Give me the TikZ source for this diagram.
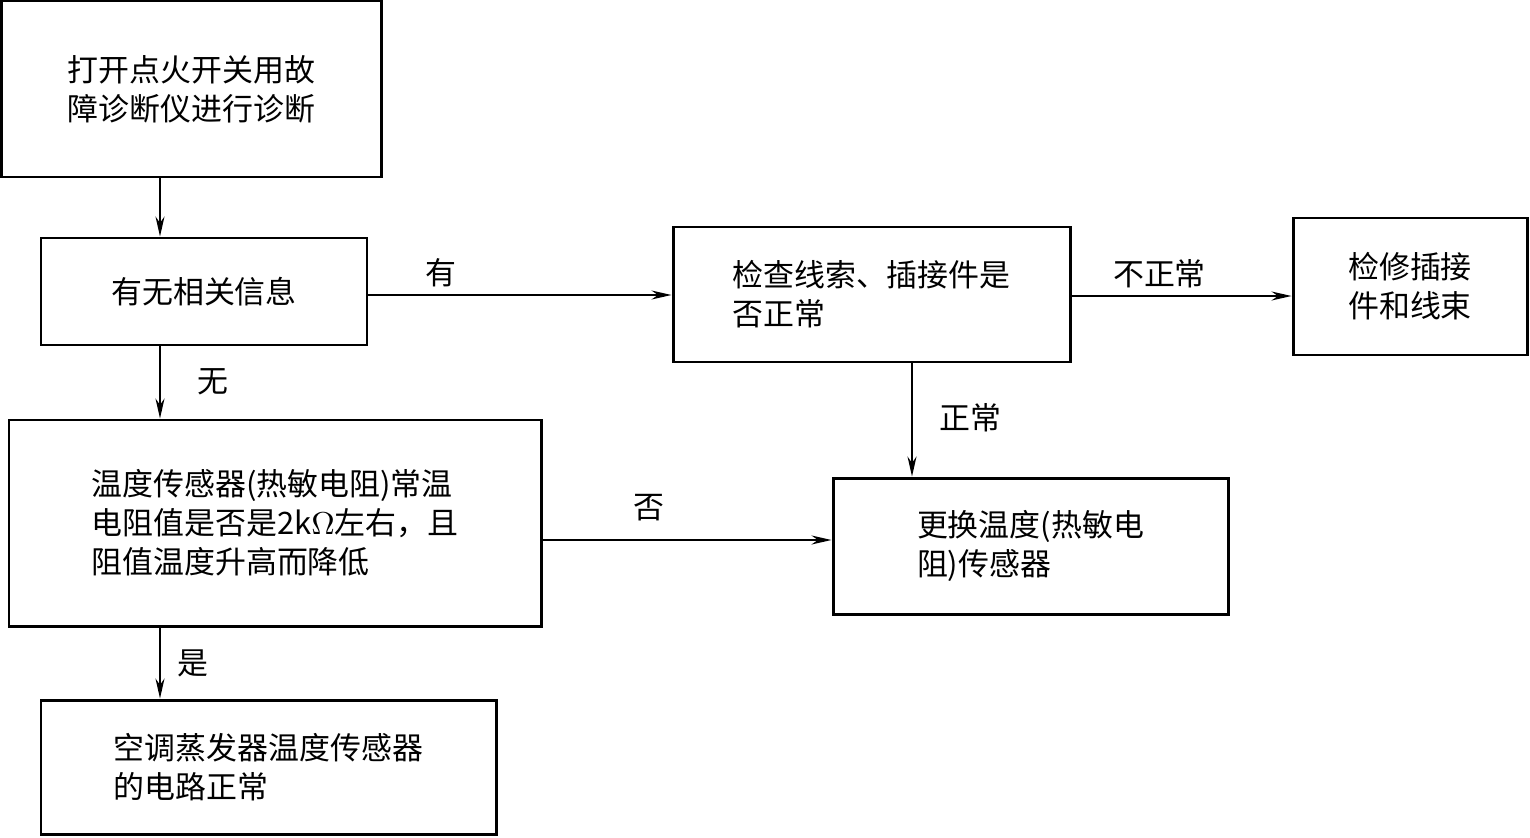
\documentclass[tikz,border=0pt]{standalone}
\usepackage{fontspec}
\newfontfamily\cjk{Noto Sans CJK SC}
\usetikzlibrary{arrows.meta}
\tikzset{
  box/.style={draw=black, line width=0.85pt, align=left, inner sep=2pt,
    font=\cjk\fontsize{8.8pt}{11.1pt}\selectfont},
  arr/.style={-{Stealth[length=2mm, width=0.9mm]}, line width=0.5pt},
  lbl/.style={font=\cjk\fontsize{8.8pt}{11pt}\selectfont, inner sep=1pt},
}
\begin{document}
\begin{tikzpicture}
  \useasboundingbox (0,0) rectangle (15.3,-8.37);
  % boxes
  \node[box, minimum width=3.8cm, minimum height=1.76cm] (start) at (1.915,-0.89) {打开点火开关用故\\障诊断仪进行诊断};
  \node[box, minimum width=3.26cm, minimum height=1.07cm] (info) at (2.04,-2.915) {有无相关信息};
  \node[box, minimum width=5.32cm, minimum height=2.06cm] (res) at (2.75,-5.23) {温度传感器(热敏电阻)常温\\电阻值是否是2k$\Omega$左右，且\\阻值温度升高而降低};
  \node[box, minimum width=4.55cm, minimum height=1.34cm] (ok) at (2.685,-7.67) {空调蒸发器温度传感器\\的电路正常};
  \node[box, minimum width=3.97cm, minimum height=1.35cm] (wire) at (8.715,-2.945) {检查线索、插接件是\\否正常};
  \node[box, minimum width=2.34cm, minimum height=1.37cm] (fix) at (14.1,-2.865) {检修插接\\件和线束};
  \node[box, minimum width=3.95cm, minimum height=1.36cm] (swap) at (10.305,-5.46) {更换温度(热敏电\\阻)传感器};
  % connectors
  \draw[arr] (1.6,0 |- start.south) -- (1.6,0 |- info.north);
  \draw[arr] (1.6,0 |- info.south) -- (1.6,0 |- res.north) node[lbl, pos=0.49, right=3.3mm] {无};
  \draw[arr] (1.6,0 |- res.south) -- (1.6,0 |- ok.north) node[lbl, pos=0.5, right=1.3mm] {是};
  \draw[arr] (0,-2.95 -| info.east) -- (0,-2.95 -| wire.west) node[lbl, pos=0.24, above=0.4mm] {有};
  \draw[arr] (0,-2.96 -| wire.east) -- (0,-2.96 -| fix.west) node[lbl, pos=0.4, above=0.4mm] {不正常};
  \draw[arr] (9.12,0 |- wire.south) -- (9.12,0 |- swap.north) node[lbl, pos=0.48, right=2.3mm] {正常};
  \draw[arr] (0,-5.4 -| res.east) -- (0,-5.4 -| swap.west) node[lbl, pos=0.37, above=1.5mm] {否};
\end{tikzpicture}
\end{document}
